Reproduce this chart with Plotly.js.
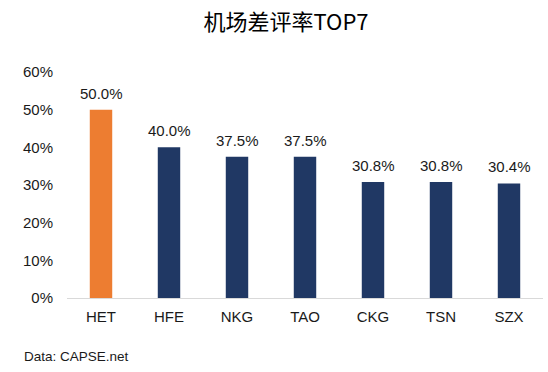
<!DOCTYPE html>
<html>
<head>
<meta charset="utf-8">
<script src="https://cdn.plot.ly/plotly-3.0.1.min.js"></script>
<style>html,body{margin:0;padding:0;background:#fff;}#chart{width:548px;height:372px;}</style>
</head>
<body>
<div id="chart"></div>
<script>
var categories = ["HET", "HFE", "NKG", "TAO", "CKG", "TSN", "SZX"];
var values = [0.500, 0.400, 0.375, 0.375, 0.308, 0.308, 0.304];
var barColors = ["#ED7D31", "#203864", "#203864", "#203864", "#203864", "#203864", "#203864"];
var tickVals = [0, 0.1, 0.2, 0.3, 0.4, 0.5, 0.6];
var tickText = ["0%", "10%", "20%", "30%", "40%", "50%", "60%"];

var font = "Liberation Sans, Arial, 'Noto Sans CJK SC', sans-serif";

var trace = {
  type: "bar",
  x: categories,
  y: values,
  marker: {color: barColors},
  width: 0.33,
  hoverinfo: "none"
};

var annotations = categories.map(function(c, i) {
  return {
    x: c, y: values[i], xref: "x", yref: "y",
    text: (values[i] * 100).toFixed(1) + "%",
    showarrow: false, yanchor: "bottom", yshift: 6,
    font: {family: font, size: 15, color: "#1a1a1a"}
  };
});
annotations.push({
  xref: "paper", yref: "paper", x: -0.095, y: -0.257,
  xanchor: "left", yanchor: "middle",
  text: "Data: CAPSE.net", showarrow: false,
  font: {family: font, size: 13.5, color: "#1a1a1a"}
});

var layout = {
  width: 548, height: 372,
  margin: {l: 67, r: 5, t: 72, b: 74},
  paper_bgcolor: "#fff", plot_bgcolor: "#fff",
  title: {
    text: "机场差评率TOP7",
    x: 0.522, xref: "container", xanchor: "center",
    y: 1 - 22 / 372, yref: "container", yanchor: "middle",
    font: {family: "'Noto Sans CJK SC', Liberation Sans, sans-serif", size: 22, color: "#000"}
  },
  xaxis: {
    showgrid: false, showline: true, linecolor: "#D9D9D9", linewidth: 1,
    ticks: "", tickfont: {family: font, size: 15, color: "#1a1a1a"},
    ticklabelstandoff: 5,
    fixedrange: true
  },
  yaxis: {
    range: [0, 0.6], tickvals: tickVals, ticktext: tickText,
    showgrid: false, zeroline: false, showline: false,
    ticks: "outside", ticklen: 10, tickcolor: "#ffffff",
    tickfont: {family: font, size: 15, color: "#1a1a1a"},
    fixedrange: true
  },
  annotations: annotations,
  showlegend: false
};

Plotly.newPlot("chart", [trace], layout, {displayModeBar: false, staticPlot: true});
</script>
</body>
</html>
